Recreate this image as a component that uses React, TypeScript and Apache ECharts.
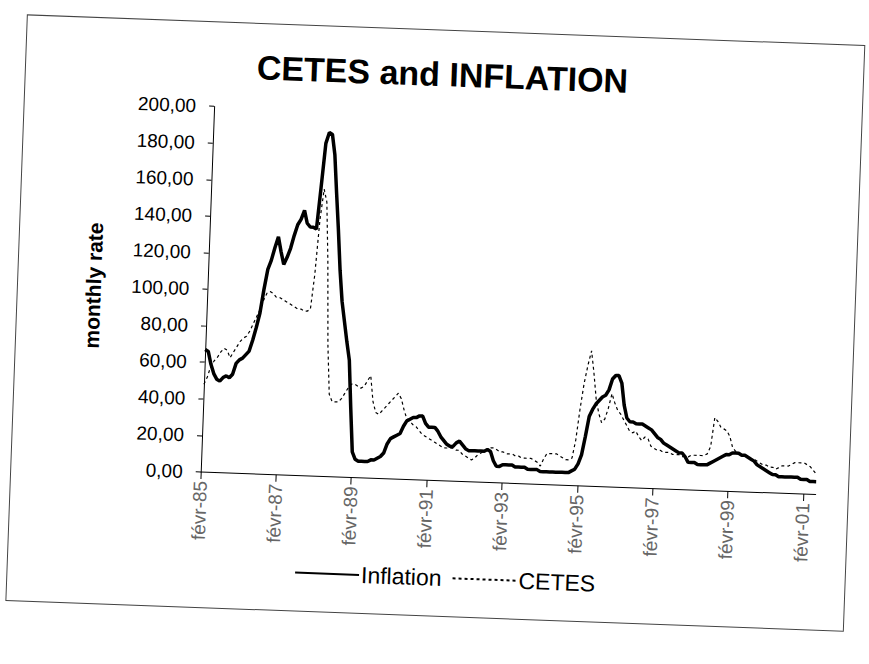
import React, { useEffect, useRef } from "react";
import * as echarts from "echarts";

const monthNames = ["janv", "févr", "mars", "avr", "mai", "juin", "juil", "août", "sept", "oct", "nov", "déc"];

// Monthly series from Feb-85 to Jun-01 (197 months)
const inflation = [
  67, 66, 59, 54, 51, 50, 52, 53, 52, 54, 60, 62, 63, 65, 67, 73, 80, 88, 101, 112,
  117, 124, 130, 122, 115, 119, 124, 131, 137, 140, 145, 138, 136, 136, 135, 158, 182, 188, 187, 176,
  155, 135, 113, 96, 85, 74, 64, 38, 14, 10, 9, 9, 9, 9, 10, 10, 11, 12, 14, 19,
  22, 23, 24, 25, 29, 32, 33, 34, 34, 35, 35, 31, 29, 29, 29, 27, 24, 22, 20, 19,
  19, 21, 22, 20, 18, 17, 17, 17, 17, 17, 17, 18, 17, 12, 9, 9, 10, 10, 10, 10,
  9, 9, 9, 9, 8, 8, 8, 8, 7, 7, 7, 7, 7, 7, 7, 7, 7, 7, 8, 9,
  12, 17, 27, 38, 42, 45, 47, 49, 50, 53, 59, 61, 61, 57, 45, 38, 36, 36, 35, 35,
  35, 34, 33, 32, 30, 28, 27, 25, 24, 23, 22, 21, 20, 20, 18, 15, 15, 15, 14, 14,
  14, 14, 15, 16, 17, 18, 19, 20, 20, 21, 21, 21, 20, 20, 19, 18, 17, 15, 14, 13,
  12, 11, 10, 10, 9, 9, 9, 9, 9, 9, 9, 8, 8, 8, 7, 7, 7
];

const cetes = [
  48, 52, 58, 61, 63, 66, 68, 67, 63, 66, 69, 72, 74, 75, 78, 82, 86, 90, 95, 99,
  100, 99, 97, 97, 96, 95, 94, 93, 92, 91, 91, 90, 90, 91, 110, 140, 157, 150, 118, 72,
  45, 41, 41, 41, 43, 46, 49, 51, 51, 50, 49, 50, 53, 56, 42, 36, 35, 37, 39, 41,
  43, 45, 47, 44, 38, 33, 32, 30, 29, 27, 25, 24, 23, 22, 21, 20, 19, 18, 18, 18,
  18, 17, 17, 15, 14, 13, 12, 13, 15, 16, 17, 18, 19, 19, 18, 17, 17, 16, 16, 16,
  15, 15, 14, 14, 14, 14, 13, 12, 10, 14, 17, 17, 17, 17, 16, 15, 14, 14, 15, 25,
  42, 56, 66, 74, 62, 48, 40, 35, 37, 43, 51, 46, 42, 40, 37, 34, 31, 30, 31, 28,
  26, 28, 27, 23, 22, 21, 21, 20, 20, 20, 19, 19, 19, 18, 18, 18, 19, 19, 19, 19,
  19, 20, 24, 40, 38, 35, 34, 33, 30, 24, 22, 21, 20, 20, 19, 18, 18, 17, 16, 15,
  15, 14, 14, 13, 14, 15, 15, 15, 16, 17, 17, 17, 17, 16, 15, 13, 11
];

const startYear = 1985;
const startMonth = 1; // févr
const categories = inflation.map((_, i) => {
  const mi = startMonth + i;
  const y = startYear + Math.floor(mi / 12);
  return monthNames[mi % 12] + "-" + String(y % 100).padStart(2, "0");
});

const yTicks = [0, 20, 40, 60, 80, 100, 120, 140, 160, 180, 200];

export default function App() {
  const ref = useRef<HTMLDivElement>(null);
  useEffect(() => {
    if (!ref.current) return;
    const chart = echarts.init(ref.current, null, { renderer: "svg" });
    const font = "'Liberation Sans', Arial, sans-serif";
    chart.setOption({
      animation: false,
      backgroundColor: "#ffffff",
      title: {
        text: "CETES and INFLATION",
        left: 428,
        top: 52,
        textAlign: "center",
        textStyle: { fontFamily: font, fontSize: 34, fontWeight: "bold", color: "#000" },
      },
      grid: { left: 206, top: 114.6, right: 47.6, bottom: 183.6, containLabel: false },
      legend: {
        left: 298,
        top: 561,
        itemWidth: 64,
        itemHeight: 14,
        itemGap: 10,
        itemStyle: { opacity: 0 },
        textStyle: { fontFamily: font, fontSize: 23, color: "#000", padding: [0, 0, 0, -3] },
        data: ["Inflation", "CETES"],
      },
      xAxis: {
        type: "category",
        data: categories,
        boundaryGap: false,
        axisLine: { lineStyle: { color: "#000", width: 1 } },
        axisTick: { interval: 23, length: 7, lineStyle: { color: "#000" } },
        axisLabel: {
          interval: 23,
          rotate: 90,
          margin: 9,
          fontFamily: font,
          fontSize: 19,
          color: "#666",
        },
        splitLine: { show: false },
      },
      yAxis: {
        type: "value",
        min: yTicks[0],
        max: yTicks[yTicks.length - 1],
        interval: 20,
        axisLine: { show: true, lineStyle: { color: "#000", width: 1 } },
        axisTick: { show: true, length: 5, lineStyle: { color: "#000" } },
        axisLabel: {
          margin: 18,
          fontFamily: font,
          fontSize: 19,
          color: "#000",
          formatter: (v: number) => v.toFixed(2).replace(".", ","),
        },
        splitLine: { show: false },
      },
      graphic: [
        {
          type: "rect",
          shape: { x: 16, y: 30, width: 838, height: 586 },
          style: { fill: "none", stroke: "#444", lineWidth: 1 },
          silent: true,
        },
        {
          type: "text",
          x: 92,
          y: 298,
          rotation: Math.PI / 2,
          style: {
            text: "monthly rate",
            font: "bold 21px 'Liberation Sans', Arial, sans-serif",
            fill: "#000",
            textAlign: "center",
            textVerticalAlign: "middle",
          },
        },
      ],
      series: [
        {
          name: "Inflation",
          type: "line",
          data: inflation,
          symbol: "none",
          smooth: false,
          lineStyle: { color: "#000", width: 3.5 },
          itemStyle: { color: "#000" },
        },
        {
          name: "CETES",
          type: "line",
          data: cetes,
          symbol: "none",
          lineStyle: { color: "#000", width: 1.2, type: [3, 3] },
          itemStyle: { color: "#000" },
        },
      ],
    });
    return () => chart.dispose();
  }, []);
  return (
    <div
      style={{
        position: "absolute",
        left: 0,
        top: 0,
        width: 869,
        height: 664,
        background: "#fff",
        transform: "rotate(2.1deg)",
        transformOrigin: "434.5px 332px",
      }}
    >
      <div ref={ref} style={{ width: 869, height: 664 }} />
    </div>
  );
}
